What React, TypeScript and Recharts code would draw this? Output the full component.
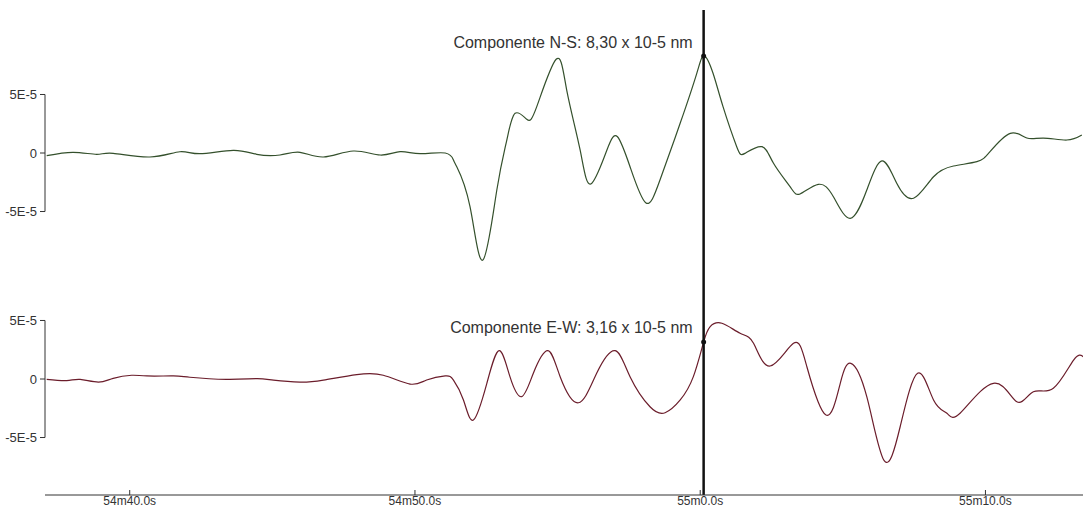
import React from 'react';
import { LineChart, Line, XAxis, YAxis, ReferenceLine, ReferenceDot } from 'recharts';

// time in seconds after 54m0s, amplitude in units of 1E-5
const nsTime = [
  37.09, 38.02, 38.84, 39.42, 40.71, 41.76, 42.46, 43.63, 44.45, 45.27, 45.97, 46.79, 47.84, 48.78,
  49.48, 50.18, 51.06, 51.35, 51.47, 51.93, 52.38, 52.87, 53.22, 53.51, 53.92, 54.27, 54.95, 55.32,
  55.79, 56.16, 56.73, 57.1, 57.54, 58.09, 58.59, 59.3, 59.88, 60.14, 60.45, 60.8, 61.28, 61.57,
  62.16, 62.57, 63.15, 63.5, 64.14, 64.67, 65.26, 65.84, 66.37, 66.89, 67.48, 68.18, 68.88, 69.7,
  70.16, 70.87, 71.45, 72.03, 72.85, 73.38,
];
const nsValue = [
  -0.23, 0.06, -0.11, -0.03, -0.34, 0.11, -0.06, 0.23, -0.11, -0.17, 0.06, -0.34, 0.17, -0.17,
  0.11, -0.06, 0.0, -0.6, -1.2, -4.59, -9.15, -3.16, 1.11, 3.39, 2.88, 3.96, 8.01, 5.38,
  0.26, -2.65, 0.26, 1.39, -1.17, -4.25, -2.31, 2.56, 6.81, 8.3, 6.81, 3.96, 0.54, -0.03,
  0.54, -0.88, -2.88, -3.5, -2.68, -3.74, -5.58, -3.16, -0.68, -2.59, -3.87, -2.03, -1.11, -0.74,
  0.11, 1.68, 1.28, 1.28, 1.11, 1.54,
];

const ewTime = [
  37.09, 37.79, 38.26, 38.9, 39.42, 40.07, 40.6, 41.53, 42.11, 43.4, 44.45, 45.04, 45.97, 46.79,
  47.96, 48.89, 49.83, 50.41, 51.06, 51.35, 51.7, 52.05, 52.52, 52.95, 53.33, 53.74, 54.15, 54.66,
  55.09, 55.73, 56.37, 57.02, 57.54, 58.24, 58.77, 59.3, 59.76, 60.12, 60.35, 60.76, 61.4, 61.87,
  62.45, 63.27, 63.74, 64.41, 64.91, 65.28, 65.84, 66.45, 67.01, 67.62, 68.18, 68.65, 69.11, 70.28,
  71.1, 71.68, 72.38, 73.09, 73.43,
];
const ewValue = [
  -0.03, -0.14, -0.03, -0.26, 0.06, 0.32, 0.26, 0.26, 0.15, -0.03, 0.03, -0.09, -0.26, -0.09,
  0.37, 0.32, -0.43, -0.09, 0.26, -0.09, -1.79, -3.5, -0.37, 2.42, 0.2, -1.51, 0.49, 2.42,
  0.2, -2.03, 0.49, 2.42, 0.2, -2.37, -2.88, -1.79, 0.2, 3.16, 4.47, 4.76, 3.91, 3.05,
  1.11, 3.05, 1.05, -3.08, -0.37, 1.34, -1.51, -6.98, -4.08, 0.49, -1.79, -2.93, -2.93, -0.37,
  -1.94, -1.09, -0.79, 1.62, 1.91,
];

const xDomain = [37.03, 73.42];
const xTicks = [40, 50, 60, 70];
const yTicks = [-5, 0, 5];
const cursorTime = 60.12;
const nsAtCursor = 8.3;
const ewAtCursor = 3.16;
const nsLabel = 'Componente N-S: 8,30 x 10-5 nm';
const ewLabel = 'Componente E-W: 3,16 x 10-5 nm';

const nsData = nsTime.map((t, i) => ({ t, v: nsValue[i] }));
const ewData = ewTime.map((t, i) => ({ t, v: ewValue[i] }));

const axisColor = '#333';
const xTickStyle = { fill: '#333', fontSize: 12 };
const yTickStyle = { fill: '#333', fontSize: 13 };

const fmtY = (v: number) => (v === 0 ? '0' : `${v}E-5`);
const fmtX = (v: number) => `${54 + Math.floor(v / 60)}m${(v % 60).toFixed(1)}s`;

const cursorLabel = (text: string, dy: number) => (props: any) => {
  const vb = props.viewBox || {};
  return (
    <text
      x={vb.x - 11}
      y={vb.y + dy}
      textAnchor="end"
      fill="#333"
      fontSize={16}
      fontFamily="Liberation Sans, Arial, sans-serif"
    >
      {text}
    </text>
  );
};

const Panel: React.FC<{
  data: { t: number; v: number }[];
  color: string;
  height: number;
  top: number;
  yDomain: number[];
  dotY: number;
  label: string;
  labelDy: number;
  showX: boolean;
}> = ({ data, color, height, top, yDomain, dotY, label, labelDy, showX }) => (
  <LineChart width={1083} height={height} data={data} margin={{ top, right: 0, bottom: 0, left: 0 }}>
    <XAxis
      type="number"
      dataKey="t"
      domain={xDomain}
      allowDataOverflow
      hide={!showX}
      ticks={xTicks}
      interval={0}
      tickFormatter={fmtX}
      height={18}
      stroke={axisColor}
      tick={xTickStyle}
      tickSize={-5}
      tickMargin={6}
    />
    <YAxis
      type="number"
      domain={yDomain}
      allowDataOverflow
      ticks={yTicks}
      interval={0}
      tickFormatter={fmtY}
      width={45}
      axisLine={false}
      stroke={axisColor}
      tick={yTickStyle}
      tickSize={5}
      tickMargin={3}
    />
    <ReferenceLine
      segment={[{ x: xDomain[0], y: -5 }, { x: xDomain[0], y: 5 }]}
      stroke={axisColor}
      strokeWidth={1}
    />
    <Line
      type="natural"
      dataKey="v"
      stroke={color}
      strokeWidth={1.2}
      dot={false}
      isAnimationActive={false}
    />
    <ReferenceLine
      x={cursorTime}
      stroke="#111"
      strokeWidth={2.5}
      label={cursorLabel(label, labelDy)}
    />
    <ReferenceDot x={cursorTime} y={dotY} r={2.5} fill="#111" stroke="none" />
  </LineChart>
);

export default function App() {
  return (
    <div
      style={{
        position: 'absolute',
        left: 0,
        top: 0,
        width: 1083,
        height: 513,
        background: '#fff',
        fontFamily: 'Liberation Sans, Arial, sans-serif',
      }}
    >
      <Panel
        data={nsData}
        color="#34502c"
        height={300}
        top={10}
        yDomain={[-12.56, 12.22]}
        dotY={nsAtCursor}
        label={nsLabel}
        labelDy={38}
        showX={false}
      />
      <Panel
        data={ewData}
        color="#6b1d2b"
        height={213}
        top={0}
        yDomain={[-9.91, 6.75]}
        dotY={ewAtCursor}
        label={ewLabel}
        labelDy={33}
        showX
      />
    </div>
  );
}
